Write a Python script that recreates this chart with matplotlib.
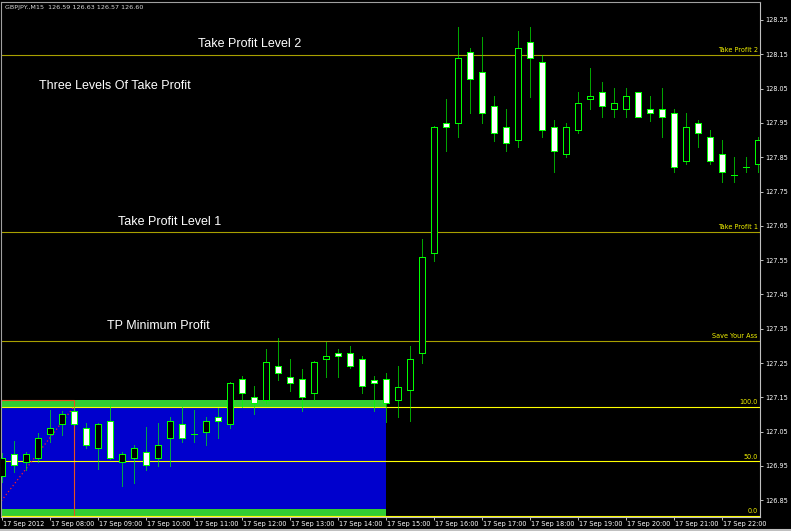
import matplotlib
matplotlib.use("Agg")
import matplotlib.pyplot as plt
import matplotlib.transforms as mtransforms
from matplotlib.patches import Rectangle

# GBPJPY M15, 17 Sep 2012, bars from 07:00 to 22:45
opens = [126.921, 126.984, 126.960, 126.972, 127.042, 127.071, 127.111, 127.060,
         127.001, 127.081, 126.960, 126.972, 126.991, 126.972, 127.030, 127.072,
         127.043, 127.050, 127.092, 127.071, 127.202, 127.150, 127.142, 127.241,
         127.210, 127.202, 127.162, 127.261, 127.280, 127.280, 127.261, 127.200,
         127.202, 127.142, 127.171, 127.280, 127.570, 127.949, 127.949, 128.158,
         128.098, 127.999, 127.938, 127.900, 128.187, 128.128, 127.938, 127.859,
         127.929, 128.019, 128.039, 127.990, 127.990, 128.039, 127.990, 127.990,
         127.980, 127.840, 127.949, 127.910, 127.859, 127.799, 127.821, 127.830]
highs = [126.987, 127.023, 126.991, 127.045, 127.113, 127.111, 127.122, 127.074,
         127.074, 127.128, 126.991, 127.011, 127.063, 127.074, 127.093, 127.123,
         127.113, 127.092, 127.120, 127.195, 127.212, 127.183, 127.291, 127.322,
         127.262, 127.233, 127.255, 127.312, 127.291, 127.300, 127.271, 127.212,
         127.222, 127.241, 127.300, 127.611, 127.940, 128.020, 128.230, 128.167,
         128.200, 128.028, 127.990, 128.218, 128.230, 128.148, 127.958, 127.949,
         128.039, 128.109, 128.070, 128.051, 128.051, 128.039, 128.028, 128.051,
         127.990, 127.980, 127.958, 127.929, 127.900, 127.850, 127.850, 127.910]
lows = [126.904, 126.931, 126.938, 126.962, 127.021, 127.040, 127.070, 127.001,
        126.940, 126.970, 126.892, 126.901, 126.938, 126.950, 126.950, 127.021,
        127.021, 127.011, 127.030, 127.061, 127.123, 127.100, 127.133, 127.200,
        127.168, 127.111, 127.142, 127.210, 127.210, 127.235, 127.162, 127.111,
        127.079, 127.092, 127.082, 127.251, 127.548, 127.868, 127.910, 127.978,
        127.949, 127.898, 127.868, 127.881, 128.026, 127.910, 127.808, 127.850,
        127.920, 127.990, 127.968, 127.968, 127.968, 127.968, 127.956, 127.910,
        127.808, 127.830, 127.879, 127.830, 127.779, 127.779, 127.808, 127.808]
closes = [126.972, 126.952, 126.984, 127.030, 127.061, 127.100, 127.072, 127.011,
          127.072, 126.972, 126.984, 127.003, 126.953, 127.011, 127.081, 127.030,
          127.043, 127.081, 127.081, 127.191, 127.162, 127.133, 127.252, 127.220,
          127.191, 127.150, 127.252, 127.271, 127.271, 127.241, 127.183, 127.191,
          127.133, 127.181, 127.261, 127.560, 127.937, 127.938, 128.138, 128.078,
          127.980, 127.920, 127.891, 128.167, 128.140, 127.929, 127.869, 127.938,
          128.007, 128.028, 127.999, 128.007, 128.028, 127.968, 127.980, 127.968,
          127.821, 127.938, 127.920, 127.840, 127.808, 127.799, 127.821, 127.900]

time_labels = ["17 Sep 2012", "17 Sep 08:00", "17 Sep 09:00", "17 Sep 10:00",
               "17 Sep 11:00", "17 Sep 12:00", "17 Sep 13:00", "17 Sep 14:00",
               "17 Sep 15:00", "17 Sep 16:00", "17 Sep 17:00", "17 Sep 18:00",
               "17 Sep 19:00", "17 Sep 20:00", "17 Sep 21:00", "17 Sep 22:00"]
price_ticks = [126.85, 126.95, 127.05, 127.15, 127.25, 127.35, 127.45, 127.55,
               127.65, 127.75, 127.85, 127.95, 128.05, 128.15, 128.25]

# take profit levels
tp_levels = [128.148, 127.632, 127.314]
tp_names = ["Take Profit 2", "Take Profit 1", "Save Your Ass"]

# fibonacci from bar -1 low to bar 6 high
fib_low = 126.804
fib_high = 127.122
fib_ratios = [1.0, 0.5, 0.0]
fib_names = ["100.0", "50.0", "0.0"]
zone_top = 127.143
zone_bottom = 126.805
zone_end_bar = 32

notes = [
    ("Take Profit Level 2", 16.36, 128.180),
    ("Three Levels Of Take Profit", 3.11, 128.058),
    ("Take Profit Level 1", 9.69, 127.661),
    ("TP Minimum Profit", 8.77, 127.358),
]

W, H = 791, 531
fig = plt.figure(figsize=(W / 100, H / 100), dpi=100, facecolor="black")
ax = fig.add_axes([1 / W, 1 - 517 / H, 759 / W, 515 / H], facecolor="black")

px_bar = 12.0
ax.set_xlim((1 - 1.7) / px_bar, (760 - 1.7) / px_bar)
ax.set_ylim(128.25 - 497 / 343, 128.25 + 18 / 343)

# background zone (green frame, blue fill)
ax.add_patch(Rectangle((-2, zone_bottom), zone_end_bar + 2, zone_top - zone_bottom,
                       facecolor="#32cd32", edgecolor="none", zorder=1))
ax.add_patch(Rectangle((-2, zone_bottom + 0.019), zone_end_bar + 2,
                       fib_high - zone_bottom - 0.019,
                       facecolor="#0000cd", edgecolor="none", zorder=1.1))
# orange box around the fib range
ax.add_patch(Rectangle((-2, zone_bottom), 8, zone_top - zone_bottom,
                       facecolor="none", edgecolor="#e8501e", lw=0.8, zorder=1.2))

# levels
for lvl, name in zip(tp_levels, tp_names):
    ax.axhline(lvl, color="#a8a000", lw=0.8, zorder=1.5)
    ax.annotate(name, xy=(0.997, lvl), xycoords=("axes fraction", "data"),
                xytext=(0, 1.2), textcoords="offset points", ha="right", va="bottom",
                color="#f0f000", fontsize=4.7, family="DejaVu Sans", zorder=5)
for r, name in zip(fib_ratios, fib_names):
    lvl = fib_low + r * (fib_high - fib_low)
    ax.axhline(lvl, color="#ffff00", lw=0.8, zorder=1.5)
    ax.annotate(name, xy=(0.997, lvl), xycoords=("axes fraction", "data"),
                xytext=(0, 1.2), textcoords="offset points", ha="right", va="bottom",
                color="#f0f000", fontsize=4.7, family="DejaVu Sans", zorder=5)
ax.plot([-1, 6], [fib_low, fib_high], color="#ff2020", lw=0.9, ls=(0, (1, 2)), zorder=1.6)

# candles
bw = 0.52
for i, (o, h, l, c) in enumerate(zip(opens, highs, lows, closes)):
    ax.plot([i, i], [l, h], color="#00ff00", alpha=0.65, lw=0.7, zorder=2,
            solid_capstyle="butt", antialiased=False)
    if c > o:
        fc = "black"
    elif c < o:
        fc = "white"
    else:
        fc = "none"
    ax.add_patch(Rectangle((i - bw / 2, min(o, c)), bw, abs(c - o),
                           facecolor=fc, edgecolor="#00ff00", lw=0.7, zorder=3,
                           antialiased=False))

for txt, x, y in notes:
    ax.text(x, y, txt, color="white", fontsize=9, family="Liberation Sans",
            ha="left", va="center", zorder=6)

fig.text(5 / W, 1 - 8 / H, "GBPJPY.,M15  126.59 126.63 126.57 126.60",
         color="#d8d8d8", fontsize=4.6, family="DejaVu Sans", va="center")

# axes styling
for s in ["top", "left"]:
    ax.spines[s].set_color("#a0a0a0")
    ax.spines[s].set_linewidth(0.8)
for s in ["right", "bottom"]:
    ax.spines[s].set_color("#c0c0c0")
    ax.spines[s].set_linewidth(0.8)

ax.yaxis.tick_right()
ax.set_yticks(price_ticks)
ax.set_yticklabels([f"{p:.2f}" for p in price_ticks])
ax.tick_params(axis="y", colors="#c0c0c0", labelcolor="white", length=2.2,
               width=0.7, pad=1.5, labelsize=4.7)
ax.set_xticks(range(0, 64, 4))
ax.set_xticklabels(time_labels, ha="left")
ax.tick_params(axis="x", colors="#c0c0c0", labelcolor="white", length=2.2,
               width=0.7, pad=0.8, labelsize=4.7)
for lab in ax.get_xticklabels() + ax.get_yticklabels():
    lab.set_family("DejaVu Sans")
# shift time labels a bit to the right of their ticks
offset = mtransforms.ScaledTranslation(1 / 100, 0, fig.dpi_scale_trans)
for lab in ax.get_xticklabels():
    lab.set_transform(lab.get_transform() + offset)

fig.add_artist(plt.Line2D([0, 1], [1.5 / H, 1.5 / H], color="#c0c0c0", lw=1.5))

fig.savefig("out.png", dpi=100, facecolor="black")
